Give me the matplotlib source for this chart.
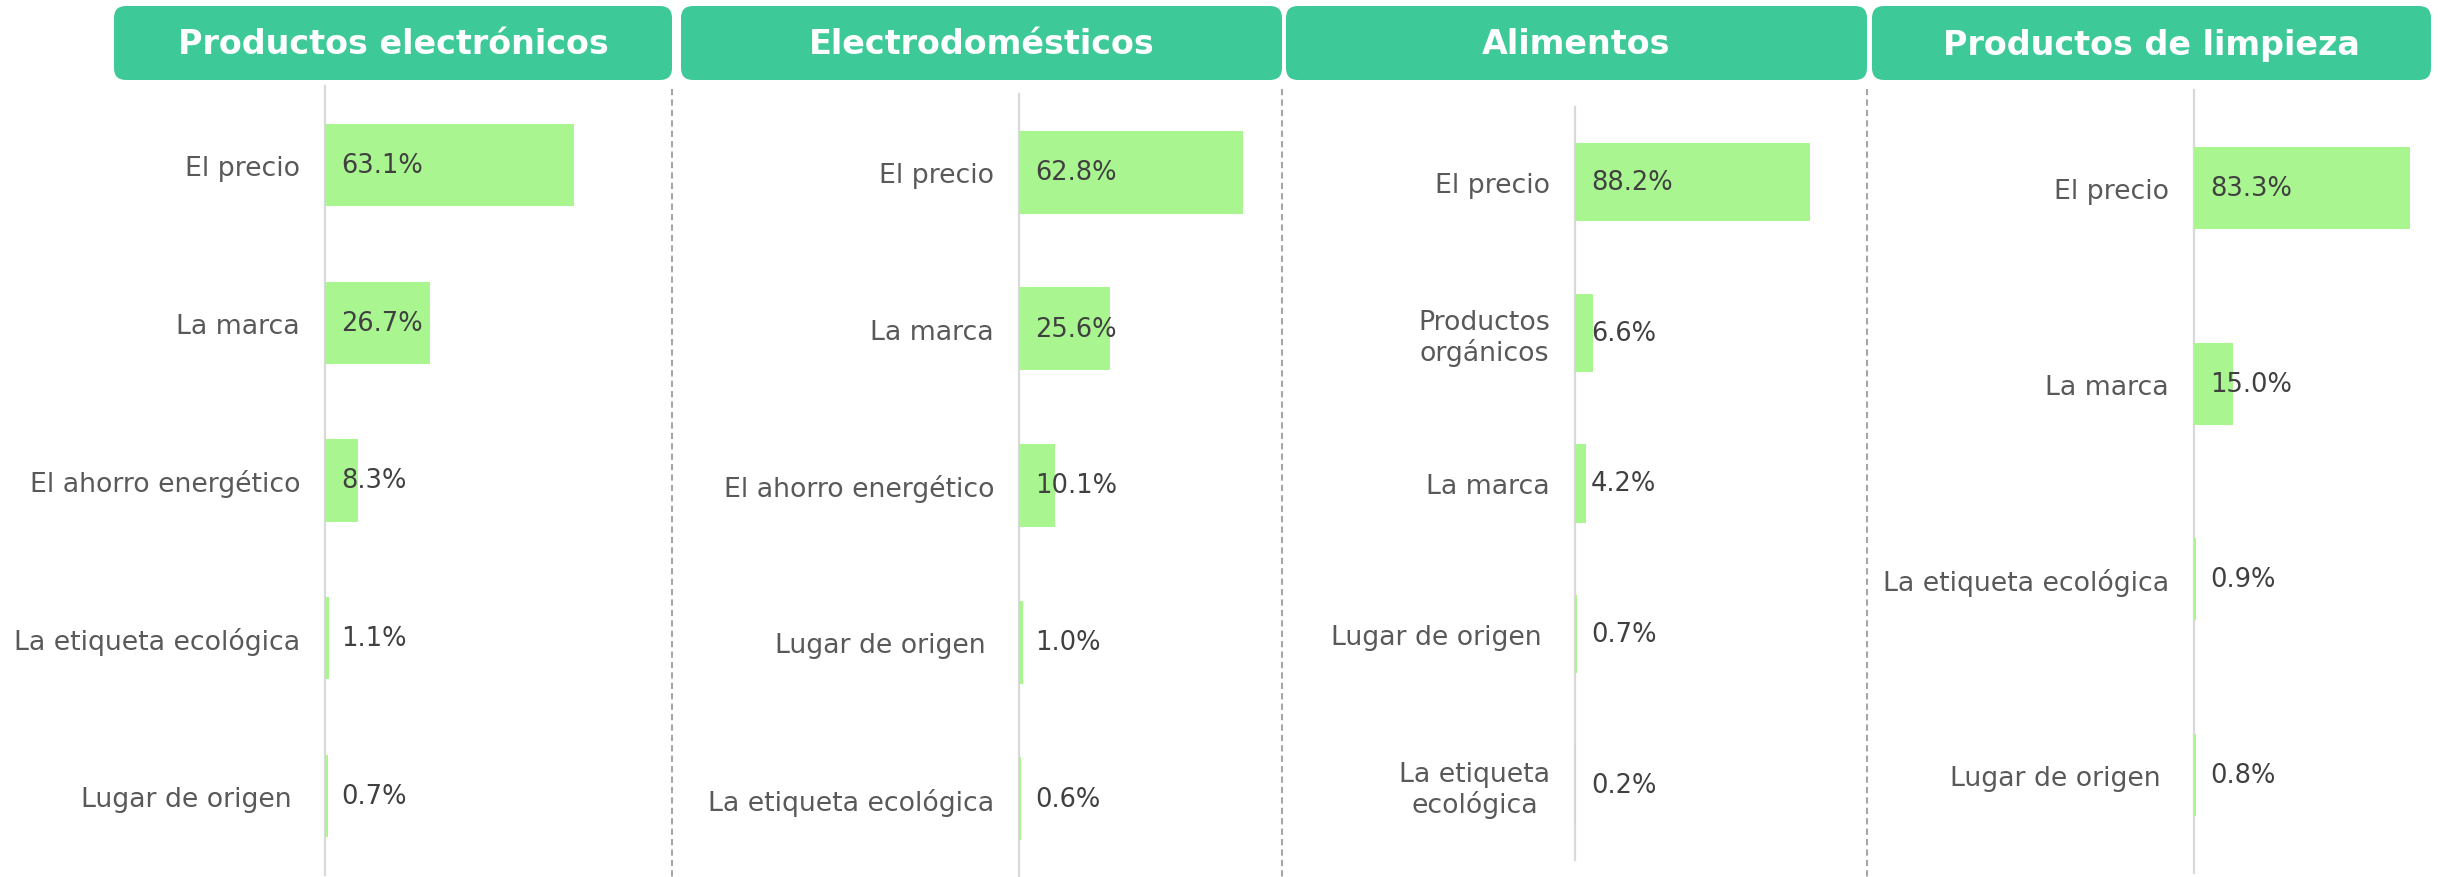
import matplotlib
matplotlib.use("Agg")
import matplotlib.pyplot as plt
from matplotlib.patches import FancyBboxPatch

W, H = 2440, 878
DPI = 100

# ---------------- data ----------------
titles = ["Productos electrónicos", "Electrodomésticos", "Alimentos", "Productos de limpieza"]

cats_electronicos = ["El precio", "La marca", "El ahorro energético", "La etiqueta ecológica", "Lugar de origen "]
vals_electronicos = [63.1, 26.7, 8.3, 1.1, 0.7]

cats_electrodomesticos = ["El precio", "La marca", "El ahorro energético", "Lugar de origen ", "La etiqueta ecológica"]
vals_electrodomesticos = [62.8, 25.6, 10.1, 1.0, 0.6]

cats_alimentos = ["El precio", "Productos\norgánicos", "La marca", "Lugar de origen ", "La etiqueta\necológica"]
vals_alimentos = [88.2, 6.6, 4.2, 0.7, 0.2]

cats_limpieza = ["El precio", "La marca", "La etiqueta ecológica", "Lugar de origen "]
vals_limpieza = [83.3, 15.0, 0.9, 0.8]

panels = [
    (cats_electronicos, vals_electronicos),
    (cats_electrodomesticos, vals_electrodomesticos),
    (cats_alimentos, vals_alimentos),
    (cats_limpieza, vals_limpieza),
]

# ---------------- layout (pixels) ----------------
header_x = [(114, 672), (681, 1282), (1286, 1867), (1872, 2431)]
header_y = (7, 81)
sep_x = [672, 1282, 1867]
# axis line x, top, bottom, right edge, xmax, bar height
axes_px = [
    (325, 87, 876, 672, 87.9, 0.52),
    (1019, 95, 878, 1282, 73.7, 0.53),
    (1575, 108, 861, 1867, 109.6, 0.52),
    (2194, 91, 874, 2431, 91.3, 0.42),
]

HEADER_C = "#3EC999"
BAR_C = "#A9F590"
CAT_C = "#595959"
VAL_C = "#404040"
AXIS_C = "#D9D9D9"
SEP_C = "#A6A6A6"

plt.rcParams['font.family'] = ['DejaVu Sans']

fig = plt.figure(figsize=(W / DPI, H / DPI), dpi=DPI)
fig.patch.set_facecolor("white")

# overlay in pixel coordinates
ov = fig.add_axes([0, 0, 1, 1], zorder=0)
ov.set_xlim(0, W)
ov.set_ylim(H, 0)
ov.axis("off")
ov.patch.set_alpha(0)

for (x0, x1), t in zip(header_x, titles):
    box = FancyBboxPatch((x0, header_y[0]), x1 - x0, header_y[1] - header_y[0],
                         boxstyle="round,pad=0,rounding_size=12",
                         facecolor=HEADER_C, edgecolor="none")
    ov.add_patch(box)
    ov.text((x0 + x1) / 2, (header_y[0] + header_y[1]) / 2 + 1, t, color="white",
            fontsize=24, fontweight="bold", ha="center", va="center")

for x in sep_x:
    ov.plot([x, x], [90, H], color=SEP_C, lw=1.5, linestyle=(0, (3, 2)))

for (cats, vals), (ax_x, top, bot, right, xmax, bh) in zip(panels, axes_px):
    ax = fig.add_axes([ax_x / W, 1 - bot / H, (right - ax_x) / W, (bot - top) / H], zorder=1)
    ax.patch.set_alpha(0)
    n = len(cats)
    ypos = list(range(n))
    ax.barh(ypos, vals, height=bh, color=BAR_C, zorder=2)
    ax.set_xlim(0, xmax)
    ax.set_ylim(n - 0.5, -0.5)
    ax.set_yticks(ypos)
    ax.set_yticklabels(cats, fontsize=19.3, color=CAT_C, multialignment="center",
                       linespacing=1.15)
    ax.tick_params(axis="y", length=0, pad=18)
    ax.set_xticks([])
    for s in ["top", "right", "bottom"]:
        ax.spines[s].set_visible(False)
    ax.spines["left"].set_color(AXIS_C)
    ax.spines["left"].set_linewidth(1.6)
    ax.spines["left"].set_zorder(1)
    for i, v in zip(ypos, vals):
        ax.annotate(f"{v:.1f}%", xy=(0, i), xytext=(11.5, 0), textcoords="offset points",
                    ha="left", va="center", fontsize=18.5, color=VAL_C, zorder=3)

fig.savefig("out.png", dpi=DPI, facecolor="white")
